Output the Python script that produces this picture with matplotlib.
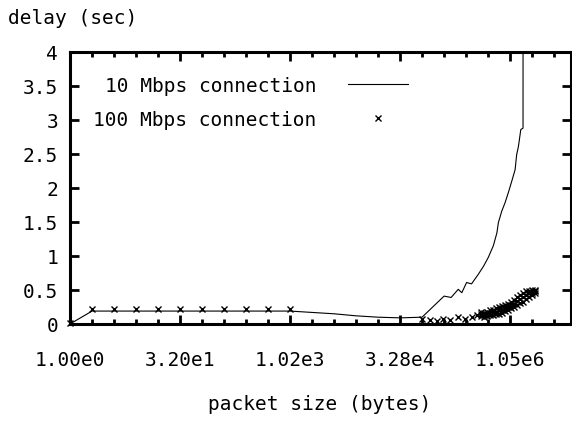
import matplotlib
matplotlib.use('Agg')
import matplotlib.pyplot as plt
import matplotlib.ticker as mticker

# delay measured on the 10 Mbps link, per packet size (bytes)
sizes_10 = [1, 2, 4, 8, 16, 32, 64, 128, 256, 512, 1024, 2048, 4096, 8192,
            16384, 32768, 65536, 131072, 163840, 204800, 229376, 266240,
            311296, 385024, 454656, 528384, 618496, 692224, 724992, 806912,
            892928, 991232, 1105920, 1228800, 1290240, 1363968, 1470464,
            1576960, 1581056]
delay_10 = [0.0, 0.19, 0.19, 0.19, 0.19, 0.19, 0.19, 0.19, 0.19, 0.19, 0.19,
            0.17, 0.15, 0.12, 0.10, 0.09, 0.10, 0.41, 0.39, 0.51, 0.46, 0.61,
            0.59, 0.73, 0.85, 0.98, 1.15, 1.34, 1.49, 1.66, 1.78, 1.93, 2.10,
            2.27, 2.49, 2.61, 2.86, 2.88, 9.5]

# delay on the 100 Mbps link (three runs at each of the large sizes)
sizes_100 = [1, 2, 4, 8, 16, 32, 64, 128, 256, 512, 1024,
             65536, 83968, 106496, 126976, 159744, 204800, 253952, 315392,
             368640,
             419840, 419840, 419840, 462848, 462848, 462848,
             505856, 505856, 505856, 557056, 557056, 557056,
             614400, 614400, 614400, 671744, 671744, 671744,
             741376, 741376, 741376, 815104, 815104, 815104,
             892928, 892928, 892928, 983040, 983040, 983040,
             1085440, 1085440, 1085440, 1187840, 1187840, 1187840,
             1306624, 1306624, 1306624, 1433600, 1433600, 1433600,
             1576960, 1576960, 1576960, 1736704, 1736704, 1736704,
             1900544, 1900544, 1900544, 2097152, 2097152, 2097152,
             2310144, 2310144, 2310144]
delay_100 = [0.01, 0.22, 0.22, 0.22, 0.22, 0.22, 0.22, 0.22, 0.22, 0.22, 0.22,
             0.07, 0.06, 0.05, 0.07, 0.06, 0.11, 0.08, 0.10, 0.13,
             0.17, 0.14, 0.12, 0.16, 0.13, 0.11,
             0.18, 0.15, 0.12, 0.20, 0.16, 0.13,
             0.21, 0.17, 0.13, 0.23, 0.18, 0.14,
             0.25, 0.20, 0.15, 0.27, 0.21, 0.16,
             0.28, 0.23, 0.19, 0.30, 0.25, 0.21,
             0.33, 0.28, 0.23, 0.36, 0.30, 0.25,
             0.40, 0.34, 0.28, 0.42, 0.37, 0.31,
             0.46, 0.40, 0.33, 0.48, 0.42, 0.37,
             0.49, 0.45, 0.40, 0.50, 0.46, 0.42,
             0.50, 0.48, 0.45]

xtick_values = [1, 32, 1024, 32768, 1048576]
xtick_labels = ['1.00e0', '3.20e1', '1.02e3', '3.28e4', '1.05e6']
ytick_values = [0, 0.5, 1, 1.5, 2, 2.5, 3, 3.5, 4]
ytick_labels = ['0', '0.5', '1', '1.5', '2', '2.5', '3', '3.5', '4']

plt.rcParams['font.family'] = 'DejaVu Sans Mono'
plt.rcParams['font.size'] = 14

fig = plt.figure(figsize=(5.72, 4.27), dpi=100)
ax = fig.add_axes([0.1224, 0.2389, 0.8759, 0.637])

ax.plot(sizes_10, delay_10, color='black', lw=0.8, label='10 Mbps connection')
ax.plot(sizes_100, delay_100, ls='none', marker='x', ms=5, mew=1.0,
        color='black', clip_on=False, label='100 Mbps connection')

ax.set_xscale('log', base=2)
ax.set_xlim(1, 2 ** 22.77)
ax.set_ylim(0, 4)

ax.xaxis.set_major_locator(mticker.FixedLocator(xtick_values))
ax.xaxis.set_major_formatter(mticker.FixedFormatter(xtick_labels))
ax.xaxis.set_minor_locator(mticker.FixedLocator([2 ** k for k in range(23)]))
ax.xaxis.set_minor_formatter(mticker.NullFormatter())
ax.set_yticks(ytick_values)
ax.set_yticklabels(ytick_labels)

ax.tick_params(which='both', direction='in', top=True, right=True,
               color='black', width=2)
ax.tick_params(which='major', length=6.5)
ax.tick_params(which='minor', length=3.5)
ax.tick_params(axis='x', which='major', pad=19)
ax.tick_params(axis='y', which='major', pad=8.5)
for sp in ax.spines.values():
    sp.set_linewidth(2.2)

ax.legend(loc='upper left', bbox_to_anchor=(0.046, 0.912), frameon=False,
          markerfirst=False, borderpad=0, borderaxespad=0,
          handlelength=3.05, handletextpad=1.65, labelspacing=0.78)

fig.text(8 / 572, 1 - 19 / 427, 'delay (sec)', ha='left', va='center')
fig.text(320 / 572, 1 - 405 / 427, 'packet size (bytes)', ha='center', va='center')

fig.savefig('out.png', dpi=100)
